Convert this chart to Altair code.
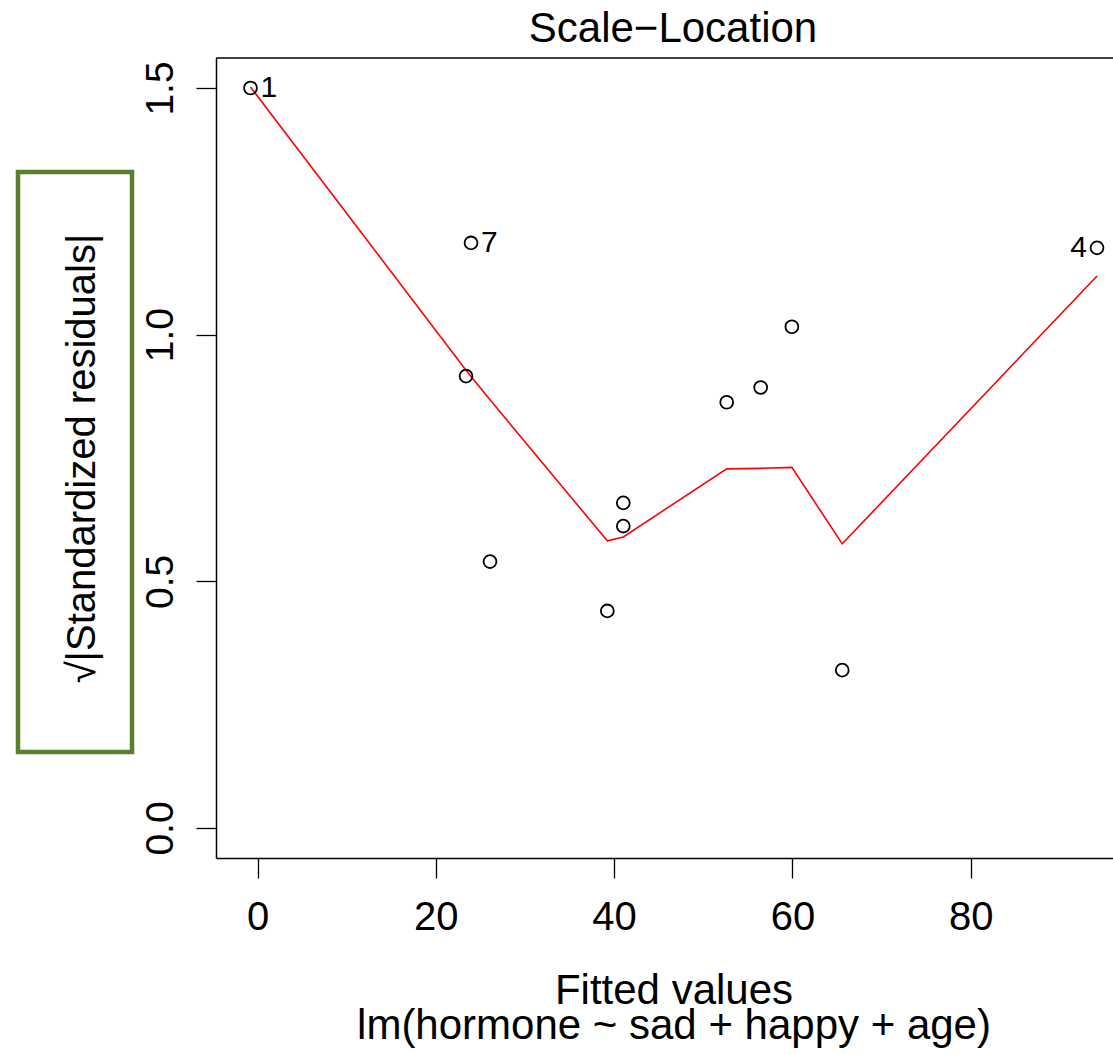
import altair as alt
import pandas as pd

# Data (R plot.lm "Scale-Location")
fitted = [-0.785, 23.39, 23.95, 26.08, 39.24, 41.03, 41.03, 52.63, 56.44, 59.94, 65.59, 94.17]
sqrt_std_resid = [1.500, 0.916, 1.186, 0.540, 0.440, 0.659, 0.612, 0.863, 0.893, 1.016, 0.320, 1.176]
smooth = [1.502, 0.928, 0.915, 0.868, 0.582, 0.590, 0.590, 0.728, 0.729, 0.731, 0.576, 1.119]
labels = ["1", "", "7", "", "", "", "", "", "", "", "", "4"]
label_side = ["right", "", "right", "", "", "", "", "", "", "", "", "left"]

x_ticks = [0, 20, 40, 60, 80]
y_ticks = [0.0, 0.5, 1.0, 1.5]

main_title = "Scale−Location"
x_title = "Fitted values"
x_subtitle = "lm(hormone ~ sad + happy + age)"
y_title = "√|Standardized residuals|"

df = pd.DataFrame({
    "fitted": fitted,
    "resid": sqrt_std_resid,
    "smooth": smooth,
    "label": labels,
    "side": label_side,
})

FONT = "Liberation Sans"
W, H = 897, 800

xscale = alt.Scale(domain=[-4.655, 95.96], nice=False, zero=False)
yscale = alt.Scale(domain=[-0.0608, 1.5608], nice=False, zero=False)

xaxis = alt.Axis(
    values=x_ticks, grid=False, tickSize=20, tickColor="black", tickWidth=1.3,
    domainColor="black", domainWidth=1.5, labelFont=FONT, labelFontSize=40,
    labelColor="black", labelPadding=19, labelFlush=False, labelOverlap=False,
    title=None,
)
yaxis = alt.Axis(
    values=y_ticks, format=".1f", grid=False, tickSize=20, tickColor="black",
    tickWidth=1.3, domainColor="black", domainWidth=1.5, labelFont=FONT,
    labelFontSize=39, labelColor="black", labelAngle=270, labelAlign="center",
    labelBaseline="alphabetic", labelPadding=24, labelFlush=False, labelOverlap=False,
    title=y_title, titleFont=FONT, titleFontSize=40,
    titleFontWeight="normal", titleColor="black", titleAngle=270,
    titleAlign="center", titleBaseline="alphabetic", titleX=-122, titleY=400,
)

base = alt.Chart(df)

points = base.mark_point(shape="circle", size=165, filled=False, color="black",
                         strokeWidth=1.8, opacity=1).encode(
    x=alt.X("fitted:Q", scale=xscale, axis=xaxis),
    y=alt.Y("resid:Q", scale=yscale, axis=yaxis),
)

line = base.mark_line(color="red", strokeWidth=1.6).encode(
    x=alt.X("fitted:Q", scale=xscale),
    y=alt.Y("smooth:Q", scale=yscale),
    order=alt.Order("fitted:Q"),
)

lab_right = base.transform_filter(alt.datum.side == "right").mark_text(
    align="left", baseline="middle", dx=10, font=FONT, fontSize=30, color="black"
).encode(x=alt.X("fitted:Q", scale=xscale), y=alt.Y("resid:Q", scale=yscale), text="label:N")

lab_left = base.transform_filter(alt.datum.side == "left").mark_text(
    align="right", baseline="middle", dx=-10, font=FONT, fontSize=30, color="black"
).encode(x=alt.X("fitted:Q", scale=xscale), y=alt.Y("resid:Q", scale=yscale), text="label:N")

one = alt.Data(values=[{"k": 1}])
top_rule = alt.Chart(one).mark_rule(color="black", strokeWidth=1.5).encode(
    x=alt.value(0), x2=alt.value(W), y=alt.value(0)
)
green_box = alt.Chart(one).mark_rect(
    fill=None, fillOpacity=0, stroke="#5b7f2f", strokeWidth=4.5
).encode(x=alt.value(-198), x2=alt.value(-84), y=alt.value(114), y2=alt.value(694))

title_txt = alt.Chart(one).mark_text(
    font=FONT, fontSize=42, color="black", align="center", baseline="alphabetic"
).encode(x=alt.value(457), y=alt.value(-16), text=alt.value(main_title))

xtitle_txt = alt.Chart(one).mark_text(
    font=FONT, fontSize=42, color="black", align="center", baseline="alphabetic"
).encode(x=alt.value(458), y=alt.value(946), text=alt.value(x_title))

xsub_txt = alt.Chart(one).mark_text(
    font=FONT, fontSize=42, color="black", align="center", baseline="alphabetic"
).encode(x=alt.value(458), y=alt.value(981), text=alt.value(x_subtitle))

chart = alt.layer(line, points, lab_right, lab_left, top_rule, green_box,
                  title_txt, xtitle_txt, xsub_txt).properties(
    width=W, height=H,
    autosize=alt.AutoSizeParams(type="none"),
    padding={"left": 216, "top": 58, "right": 0, "bottom": 196},
    background="white",
).configure_view(stroke=None)

chart.save("out.html", embed_options={"renderer": "svg", "actions": False})
